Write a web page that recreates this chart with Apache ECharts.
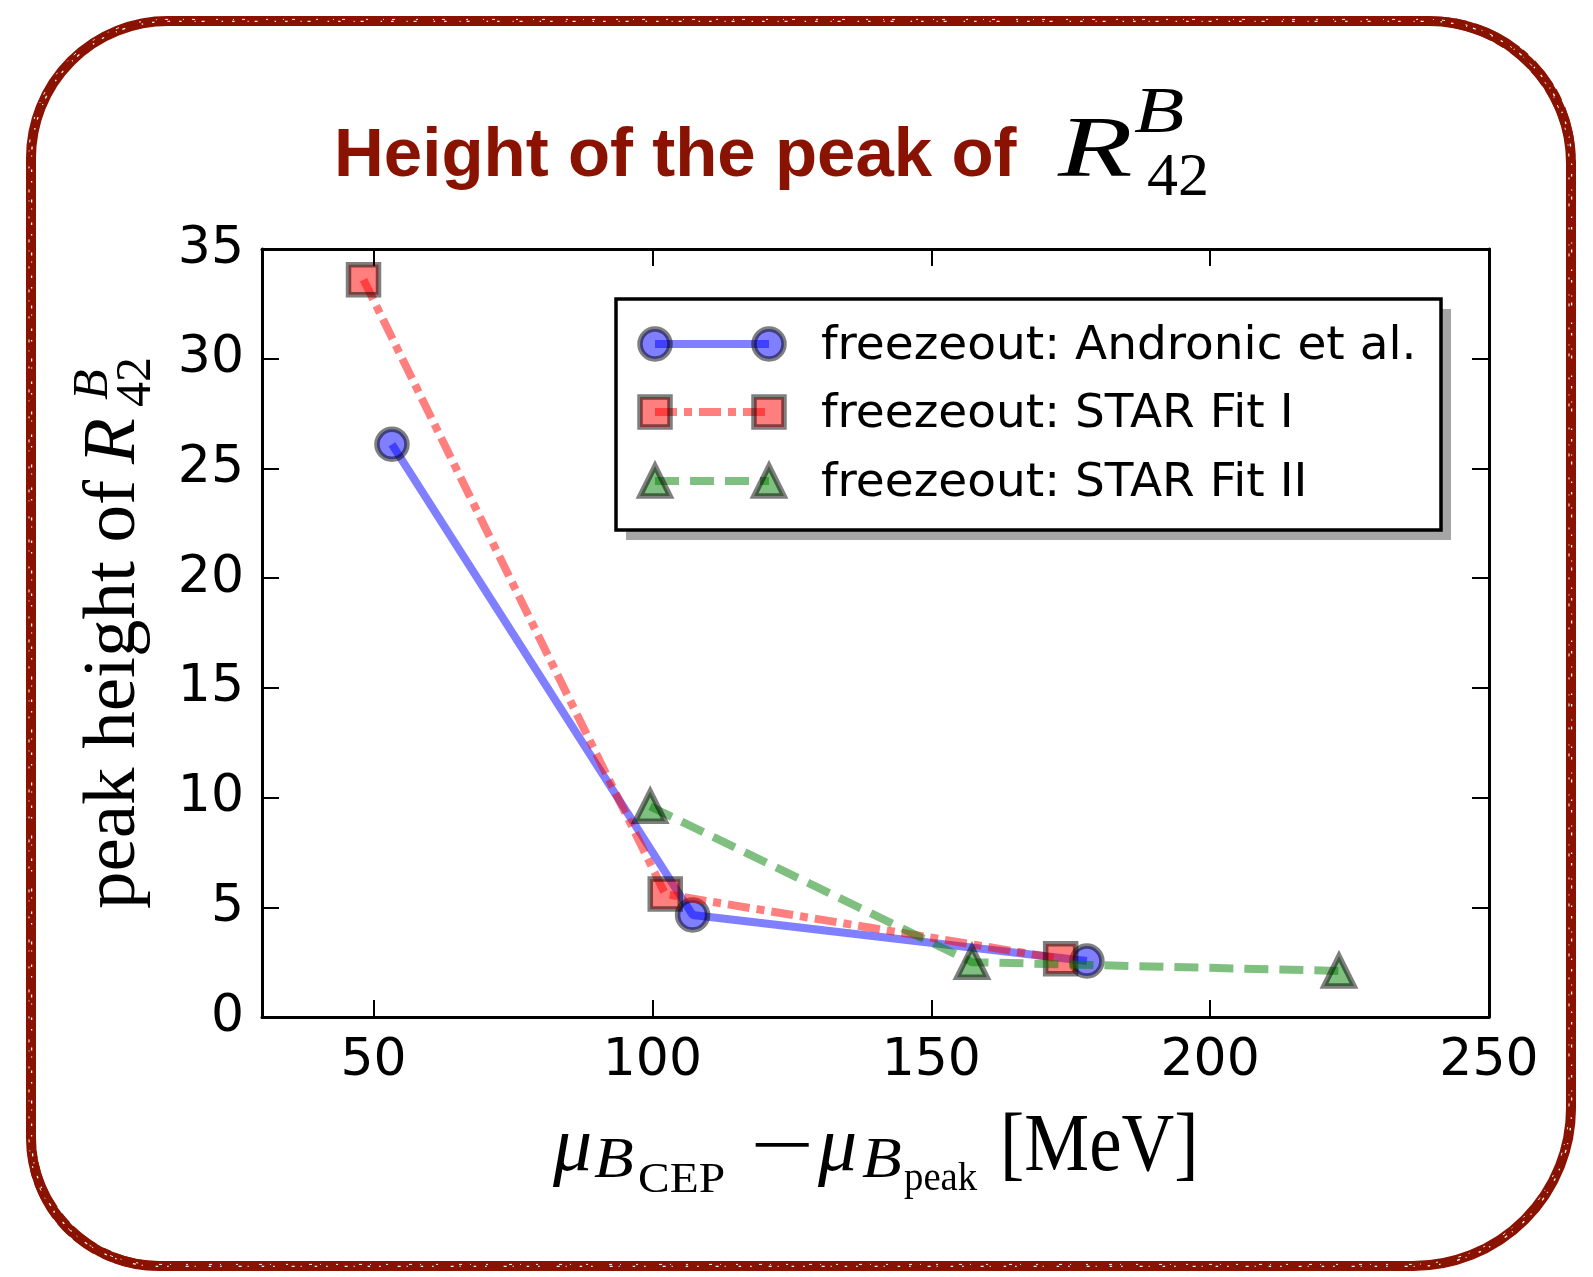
<!DOCTYPE html>
<html>
<head>
<meta charset="utf-8">
<script src="https://cdn.jsdelivr.net/npm/echarts@6/dist/echarts.min.js"></script>
<style>
  html, body { margin: 0; padding: 0; background: #ffffff; }
  #chart { width: 1593px; height: 1277px; }
</style>
</head>
<body>
<div id="chart"></div>
<script>
// ---- data -------------------------------------------------------------
const seriesNames = ['freezeout: Andronic et al.', 'freezeout: STAR Fit I', 'freezeout: STAR Fit II'];

// mu_B(CEP) - mu_B(peak) [MeV]  vs  peak height of R42
const andronicX = [53.3, 107.2, 177.9];
const andronicY = [26.1, 4.65, 2.55];

const starFit1X = [48.2, 102.3, 173.2];
const starFit1Y = [33.6, 5.6, 2.65];

const starFit2X = [99.6, 157.3, 223.1];
const starFit2Y = [9.6, 2.5, 2.1];

const xTicks = [50, 100, 150, 200, 250];
const yTicks = [0, 5, 10, 15, 20, 25, 30, 35];

// ---- styling ----------------------------------------------------------
const DARK_RED = '#8a1200';
const EDGE = 'rgba(0,0,0,0.5)';
const LINE_W = 8;
const SYM = 30;
const SYM_BORDER = 5.5;

const styles = [
  { color: 'rgba(0,0,255,0.5)', dash: 'solid', symbol: 'circle' },
  { color: 'rgba(255,0,0,0.5)', dash: [22, 7, 8, 7], symbol: 'rect' },
  { color: 'rgba(0,128,0,0.5)', dash: [24, 11], symbol: 'triangle' }
];
const xs = [andronicX, starFit1X, starFit2X];
const ys = [andronicY, starFit1Y, starFit2Y];

const grid = { left: 262, top: 249, width: 1227, height: 768 };

function pairs(a, b) { return a.map((v, i) => [v, b[i]]); }

const series = seriesNames.map((name, i) => ({
  type: 'line',
  name: name,
  data: pairs(xs[i], ys[i]),
  symbol: styles[i].symbol,
  symbolSize: SYM,
  showSymbol: true,
  lineStyle: { color: styles[i].color, width: LINE_W, type: styles[i].dash, cap: 'butt' },
  itemStyle: { color: styles[i].color, borderColor: EDGE, borderWidth: SYM_BORDER },
  emphasis: { disabled: true },
  z: 2 + i
}));

// ---- text helpers -----------------------------------------------------
// distance from the em-box middle to the alphabetic baseline, per family
const MID = { 'Liberation Serif': 0.27, 'Liberation Sans': 0.31, 'DejaVu Sans': 0.28 };

// place text so that its alphabetic baseline sits at `base`
function txt(text, x, base, fs, opt) {
  opt = opt || {};
  const family = opt.family || 'Liberation Serif';
  return {
    type: 'text',
    x: x,
    y: base - MID[family] * fs,
    scaleX: opt.sx || 1,
    silent: true,
    style: {
      text: text,
      fontSize: fs,
      fontFamily: family,
      fontStyle: opt.italic ? 'italic' : 'normal',
      fontWeight: opt.bold ? 'bold' : 'normal',
      fill: opt.fill || '#000',
      align: 'left',
      verticalAlign: 'middle'
    }
  };
}

// ---- frame (hand-drawn looking rounded border) ------------------------
const frame = { x: 31, y: 21, width: 1540, height: 1245, r: [137, 142, 158, 128] };
const frameEls = [
  { type: 'rect', silent: true, shape: frame,
    style: { fill: null, stroke: DARK_RED, lineWidth: 10 } },
  { type: 'rect', silent: true, x: 2.5, y: -2.5, shape: frame,
    style: { fill: null, stroke: DARK_RED, lineWidth: 4, lineDash: [30, 5, 12, 8, 50, 4, 7, 9] } },
  { type: 'rect', silent: true, x: -2.5, y: 2.5, shape: frame,
    style: { fill: null, stroke: DARK_RED, lineWidth: 3.5, lineDash: [18, 6, 40, 5, 9, 8, 25, 4] } },
  { type: 'rect', silent: true, x: 0.6, y: 0.4, shape: frame,
    style: { fill: null, stroke: '#ffffff', lineWidth: 1.3, lineDash: [1.5, 9, 2.5, 13, 1, 6, 3, 17] } },
  { type: 'rect', silent: true, x: -2, y: -1.6, shape: frame,
    style: { fill: null, stroke: '#ffffff', lineWidth: 1, lineDash: [2, 15, 1, 8, 3, 21] } }
];

// ---- title ------------------------------------------------------------
const titleEls = [
  txt('Height of the peak of', 334, 178, 68, { family: 'Liberation Sans', bold: true, fill: DARK_RED, sx: 1.015 }),
  txt('R', 1058, 177, 86, { italic: true, sx: 1.42 }),
  txt('B', 1134, 132, 66, { italic: true, sx: 1.25 }),
  txt('42', 1147, 195, 62)
];

// ---- axis titles ------------------------------------------------------
const xNameEls = [
  txt('\u03bc', 553, 1171, 78, { italic: true }),
  txt('B', 594, 1177, 58, { italic: true, sx: 1.12 }),
  txt('CEP', 638, 1192, 42, { sx: 1.13 }),
  txt('\u2212', 750, 1171, 76, { sx: 1.5 }),
  txt('\u03bc', 818, 1171, 78, { italic: true }),
  txt('B', 862, 1177, 58, { italic: true, sx: 1.12 }),
  txt('peak', 904, 1190, 40, { sx: 0.97 }),
  txt('[MeV]', 1000, 1171, 82, { sx: 0.89 })
];

// rotated label, reading bottom to top; local y > 0 points to the right
const yNameGroup = {
  type: 'group',
  x: 135,
  y: 909,
  rotation: Math.PI / 2,
  children: [
    txt('peak height of', 0, 0, 75),
    txt('R', 445, 0, 75, { italic: true }),
    txt('B', 509, -28, 50, { italic: true }),
    txt('42', 502, 15, 50)
  ]
};

// ---- legend (framed box with shadow, two markers per entry) ----------
const LG = { x: 616, y: 299, w: 825, h: 231, rows: [344, 412, 481], x0: 655, x1: 769, tx: 821 };

function markerEl(kind, cx, cy, color) {
  const s = SYM;
  const st = { fill: color, stroke: EDGE, lineWidth: SYM_BORDER };
  if (kind === 'circle') return { type: 'circle', silent: true, shape: { cx: cx, cy: cy, r: s / 2 }, style: st };
  if (kind === 'rect') return { type: 'rect', silent: true, shape: { x: cx - s / 2, y: cy - s / 2, width: s, height: s }, style: st };
  return { type: 'polygon', silent: true,
    shape: { points: [[cx, cy - s / 2], [cx - s / 2, cy + s / 2], [cx + s / 2, cy + s / 2]] }, style: st };
}

const legendEls = [
  { type: 'rect', silent: true, shape: { x: LG.x + 10, y: LG.y + 10, width: LG.w, height: LG.h },
    style: { fill: '#a6a6a6', stroke: null } },
  { type: 'rect', silent: true, shape: { x: LG.x, y: LG.y, width: LG.w, height: LG.h },
    style: { fill: '#ffffff', stroke: '#000', lineWidth: 3.5 } }
];
seriesNames.forEach((name, i) => {
  const cy = LG.rows[i];
  const dash = styles[i].dash === 'solid' ? null : styles[i].dash;
  legendEls.push({ type: 'line', silent: true,
    shape: { x1: LG.x0, y1: cy, x2: LG.x1, y2: cy },
    style: { stroke: styles[i].color, lineWidth: LINE_W, lineDash: dash, lineCap: 'butt' } });
  legendEls.push(markerEl(styles[i].symbol, LG.x0, cy, styles[i].color));
  legendEls.push(markerEl(styles[i].symbol, LG.x1, cy, styles[i].color));
  legendEls.push(txt(name, LG.tx, cy + 16, 47, { family: 'DejaVu Sans' }));
});

// ---- axes -------------------------------------------------------------
const axisLine = { show: true, onZero: false, lineStyle: { color: '#000', width: 3 } };
const tickStyle = { show: true, inside: true, length: 17, lineStyle: { color: '#000', width: 2 } };
const labelStyle = { color: '#000', fontSize: 52, fontFamily: 'DejaVu Sans' };

const option = {
  backgroundColor: '#ffffff',
  animation: false,
  grid: Object.assign({ containLabel: false, outerBoundsMode: 'none' }, grid),
  xAxis: [
    { type: 'value', position: 'bottom', min: 30, max: 250,
      axisLine: axisLine,
      axisTick: Object.assign({ customValues: xTicks }, tickStyle),
      axisLabel: Object.assign({ customValues: xTicks, margin: 18 }, labelStyle),
      splitLine: { show: false } },
    { type: 'value', position: 'top', min: 30, max: 250,
      axisLine: axisLine,
      axisTick: Object.assign({ customValues: xTicks }, tickStyle),
      axisLabel: { show: false },
      splitLine: { show: false } }
  ],
  yAxis: [
    { type: 'value', position: 'left', min: 0, max: 35, interval: 5,
      axisLine: axisLine,
      axisTick: Object.assign({ customValues: yTicks }, tickStyle),
      axisLabel: Object.assign({ customValues: yTicks, margin: 18 }, labelStyle),
      splitLine: { show: false } },
    { type: 'value', position: 'right', min: 0, max: 35, interval: 5,
      axisLine: axisLine,
      axisTick: Object.assign({ customValues: yTicks }, tickStyle),
      axisLabel: { show: false },
      splitLine: { show: false } }
  ],
  series: series,
  graphic: [].concat(frameEls, titleEls, xNameEls, [yNameGroup],
    [{ type: 'group', z: 100, children: legendEls }])
};

const chart = echarts.init(document.getElementById('chart'), null, { renderer: 'canvas' });
chart.setOption(option);
</script>
</body>
</html>
